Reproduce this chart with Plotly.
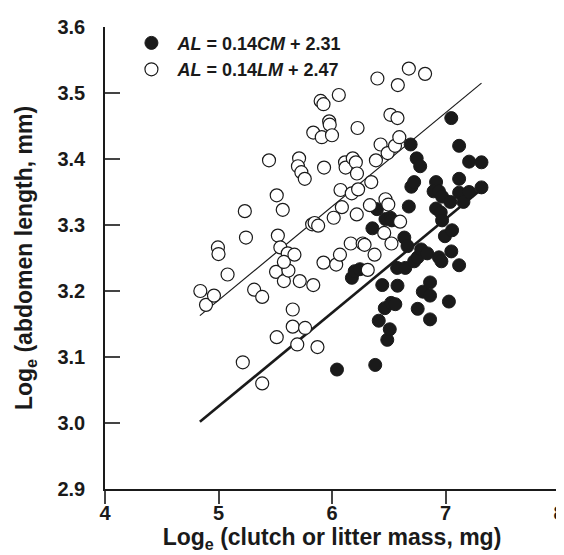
import plotly.graph_objects as go

# Open circles: litter mass (LM)
lm_x = [4.84, 4.89, 4.96, 4.995, 5.00, 5.08, 5.214, 5.232, 5.242, 5.314, 5.385, 5.385,
        5.445, 5.513, 5.523, 5.513, 5.507, 5.545, 5.566, 5.576, 5.61, 5.616, 5.576, 5.654,
        5.654, 5.669, 5.694, 5.71, 5.70, 5.73, 5.76, 5.716, 5.763, 5.825, 5.835, 5.835,
        5.847, 5.878, 5.872, 5.90, 5.925, 5.91, 5.93, 5.925, 5.975, 5.98, 6.00, 6.015,
        6.037, 6.06, 6.07, 6.075, 6.087, 6.115, 6.12, 6.165, 6.183, 6.174, 6.21, 6.225,
        6.22, 6.23, 6.218, 6.27, 6.287, 6.315, 6.346, 6.334, 6.375, 6.387, 6.40, 6.428,
        6.471, 6.46, 6.49, 6.496, 6.515, 6.524, 6.555, 6.577, 6.58, 6.593, 6.60, 6.677, 6.82]
lm_y = [3.200, 3.179, 3.193, 3.266, 3.256, 3.225, 3.092, 3.321, 3.281, 3.202, 3.191, 3.060,
        3.398, 3.345, 3.284, 3.130, 3.229, 3.266, 3.323, 3.215, 3.257, 3.231, 3.244, 3.172,
        3.146, 3.255, 3.119, 3.401, 3.389, 3.380, 3.370, 3.215, 3.144, 3.301, 3.209, 3.440,
        3.303, 3.299, 3.115, 3.488, 3.483, 3.433, 3.387, 3.243, 3.457, 3.452, 3.436, 3.311,
        3.240, 3.497, 3.255, 3.353, 3.327, 3.395, 3.387, 3.272, 3.401, 3.348, 3.395, 3.447,
        3.378, 3.354, 3.316, 3.272, 3.270, 3.232, 3.365, 3.330, 3.255, 3.398, 3.522, 3.422,
        3.339, 3.288, 3.409, 3.331, 3.467, 3.272, 3.420, 3.462, 3.512, 3.433, 3.305, 3.537, 3.529]

# Filled circles: clutch mass (CM)
cm_x = [6.044, 6.381, 6.396, 6.356, 6.412, 6.443, 6.465, 6.487, 6.509, 6.521, 6.558, 6.577,
        6.175, 6.20, 6.246, 6.471, 6.515, 6.527, 6.574, 6.646, 6.637, 6.665, 6.677, 6.693,
        6.699, 6.724, 6.746, 6.777, 6.755, 6.724, 6.755, 6.786, 6.839, 6.80, 6.864, 6.864,
        6.864, 6.917, 6.895, 6.942, 6.970, 6.917, 6.958, 6.970, 6.942, 6.964, 6.995, 7.058,
        7.051, 7.051, 7.03, 7.042, 7.12, 7.12, 7.12, 7.12, 7.158, 7.208, 7.208, 7.317, 7.317]
cm_y = [3.081, 3.088, 3.324, 3.295, 3.155, 3.209, 3.174, 3.126, 3.142, 3.182, 3.180, 3.208,
        3.220, 3.230, 3.233, 3.309, 3.311, 3.307, 3.235, 3.235, 3.281, 3.268, 3.328, 3.422,
        3.358, 3.365, 3.401, 3.389, 3.173, 3.245, 3.251, 3.263, 3.257, 3.199, 3.193, 3.213,
        3.157, 3.365, 3.351, 3.351, 3.343, 3.325, 3.319, 3.307, 3.251, 3.245, 3.283, 3.292,
        3.462, 3.260, 3.184, 3.335, 3.420, 3.370, 3.239, 3.349, 3.335, 3.396, 3.350, 3.395, 3.357]

# regression lines (slope, intercept) and fitted x span
fit_x = [4.836, 7.317]
lm_fit = (0.142, 2.476)
cm_fit = (0.142, 2.315)

x_ticks = [4, 5, 6, 7, 8]
y_ticks = [2.9, 3.0, 3.1, 3.2, 3.3, 3.4, 3.5, 3.6]

FONT = "Liberation Sans, Arial, sans-serif"
INK = '#1a1a1a'

fig = go.Figure()

fig.add_trace(go.Scatter(x=fit_x, y=[lm_fit[0] * v + lm_fit[1] for v in fit_x],
                         mode='lines', line=dict(color=INK, width=1.2),
                         showlegend=False, hoverinfo='skip'))
fig.add_trace(go.Scatter(x=fit_x, y=[cm_fit[0] * v + cm_fit[1] for v in fit_x],
                         mode='lines', line=dict(color=INK, width=2.6),
                         showlegend=False, hoverinfo='skip'))

fig.add_trace(go.Scatter(x=cm_x, y=cm_y, mode='markers',
                         marker=dict(size=13, color=INK, line=dict(color=INK, width=1)),
                         name='<b><i>AL</i> = 0.14<i>CM</i> + 2.31</b>'))
fig.add_trace(go.Scatter(x=lm_x, y=lm_y, mode='markers',
                         marker=dict(size=13, color='white', line=dict(color=INK, width=1.2)),
                         name='<b><i>AL</i> = 0.14<i>LM</i> + 2.47</b>'))

fig.update_layout(
    width=564, height=555,
    margin=dict(l=97, r=7, t=19, b=74),
    paper_bgcolor='white', plot_bgcolor='white',
    font=dict(family=FONT, color=INK),
    legend=dict(x=0.045, y=1.005, xanchor='left', yanchor='top',
                font=dict(size=18, color=INK), bgcolor='rgba(0,0,0,0)',
                traceorder='normal', itemwidth=42),
    xaxis=dict(range=[4, 8], tickvals=x_ticks, ticks='outside', ticklen=13, tickwidth=1.5,
               showline=True, linecolor=INK, linewidth=1.5, showgrid=False, zeroline=False,
               tickfont=dict(size=20, family=FONT, weight='bold'), ticklabelstandoff=-8,
               ticklabeloverflow='allow',
               title=dict(text='<b>Log<sub>e</sub> (clutch or litter mass, mg)</b>',
                          font=dict(size=23), standoff=2)),
    yaxis=dict(range=[2.9, 3.6], tickvals=y_ticks, tickformat='.1f', ticks='inside', ticklen=15,
               tickwidth=1.5, showline=True, linecolor=INK, linewidth=1.5, showgrid=False,
               zeroline=False, tickfont=dict(size=20, family=FONT, weight='bold'),
               ticklabelstandoff=14,
               title=dict(text='<b>Log<sub>e</sub> (abdomen length, mm)</b>',
                          font=dict(size=23), standoff=18)),
)

fig.write_html("out.html")
